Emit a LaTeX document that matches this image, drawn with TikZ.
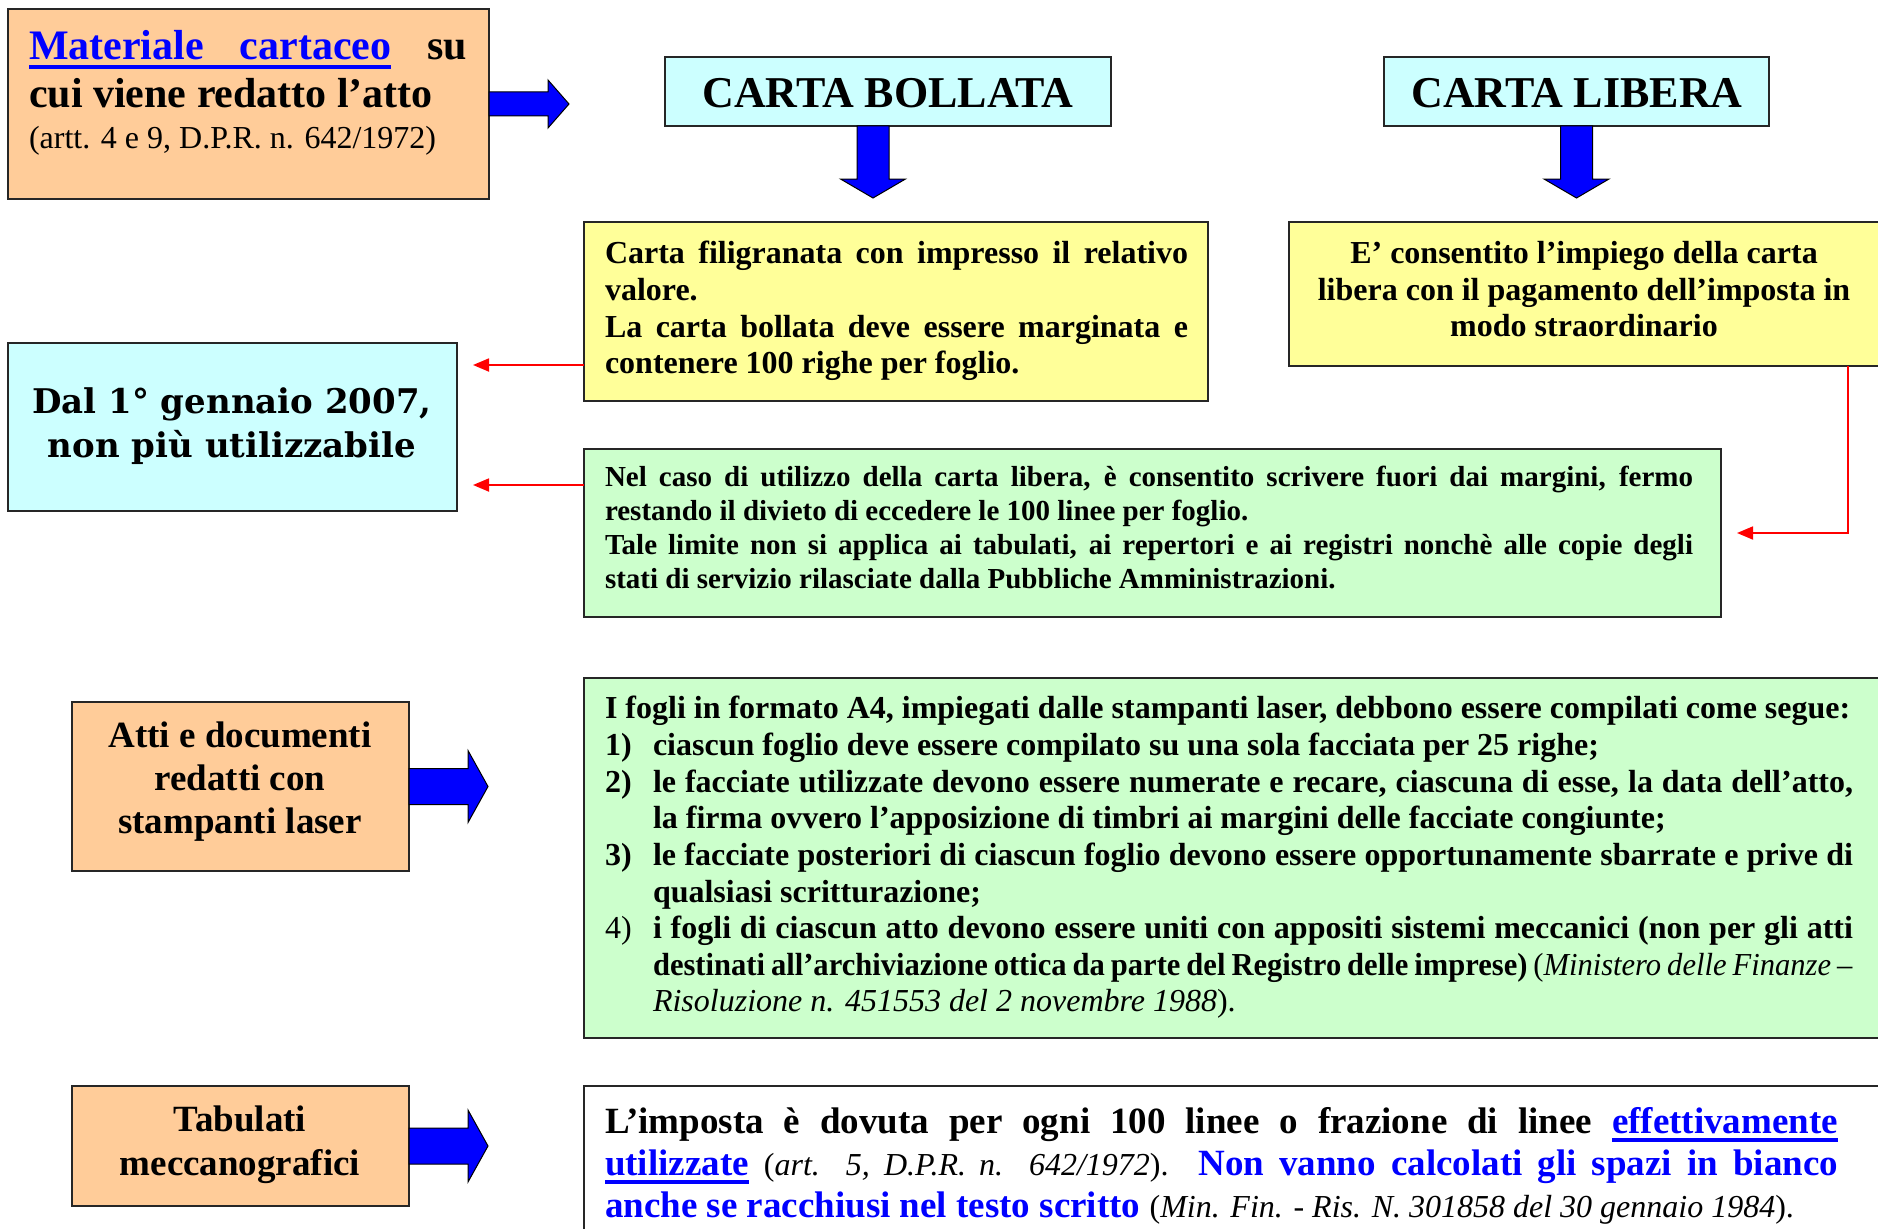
\documentclass[tikz,border=0pt]{standalone}
\usepackage{fontspec}
\setmainfont{Liberation Serif}
\newfontfamily\bookf{DejaVu Serif}
\usetikzlibrary{arrows.meta}
\definecolor{peach}{HTML}{FFCC99}
\definecolor{cyanb}{HTML}{CCFFFF}
\definecolor{yell}{HTML}{FFFF99}
\definecolor{greenb}{HTML}{CCFFCC}
\definecolor{blu}{HTML}{0000FF}
\definecolor{rd}{HTML}{FF0000}
\newcommand\fHuge{\fontsize{42}{48}\selectfont\bfseries}
\newcommand\fTitle{\fontsize{44}{50}\selectfont\bfseries}
\newcommand\fBig{\fontsize{37}{42}\selectfont\bfseries}
\newcommand\fMed{\fontsize{32}{37}\selectfont\bfseries}
\newcommand\fSm{\fontsize{29}{34}\selectfont\bfseries}
\newcommand\fReg{\fontsize{32}{37}\selectfont\mdseries}
\newcommand\fDal{\bookf\fontsize{34}{44}\selectfont\bfseries}
\newcommand\jus[2]{\makebox[#1pt][s]{#2}}
\newcommand\ulw[1]{\setbox0=\hbox{#1}\rlap{\vrule height -5pt depth 9pt width \wd0}\box0}
\newcommand\ulsp{\leaders\vrule height -5pt depth 9pt\hskip\fontdimen2\font plus\fontdimen3\font minus\fontdimen4\font}
\newcommand\bx[6]{\node[boxst, fill=#2, minimum width=#5pt, minimum height=#6pt] (#1) at (#3,#4) {};}
\newcommand\rarrow[5]{\draw[barrow] (#1) ++(0,-#2) -- ++(#3,0) -- ++(0,-#4) -- ++(#5,#2+#4) -- ++(-#5,#2+#4) -- ++(0,-#4) -- ++(-#3,0) -- cycle;}
\newcommand\darrow[5]{\draw[barrow] (#1) ++(-#2,0) -- ++(0,#3) -- ++(-#4,0) -- ++(#2+#4,#5) -- ++(#2+#4,-#5) -- ++(-#4,0) -- ++(0,-#3) -- cycle;}
\begin{document}
\begin{tikzpicture}[x=1pt,y=-1pt,
  boxst/.style={draw=black!85, line width=2pt, inner sep=0pt, outer sep=0pt, anchor=north west},
  barrow/.style={fill=blu, draw=black, line width=1pt, line join=miter},
  redarr/.style={draw=rd, line width=1.8pt, -{Triangle[length=16pt,width=13pt]}},
  tl/.style={inner sep=0pt, outer sep=0pt, anchor=base west},
  tc/.style={inner sep=0pt, outer sep=0pt, anchor=base}]
\useasboundingbox[fill=white] (0,0) rectangle (1878,1228);
% boxes
\bx{mat}{peach}{8}{9}{481}{190}
\bx{bol}{cyanb}{665}{57}{446}{69}
\bx{lib}{cyanb}{1384}{57}{385}{69}
\bx{yb1}{yell}{584}{222}{624}{179}
\bx{yb2}{yell}{1289}{222}{592}{144}
\bx{dal}{cyanb}{8}{343}{449}{168}
\bx{gb1}{greenb}{584}{449}{1137}{168}
\bx{gb2}{greenb}{584}{678}{1300}{360}
\bx{atti}{peach}{72}{702}{337}{169}
\bx{tab}{peach}{72}{1086}{337}{120}
\bx{bot}{white}{584}{1086}{1300}{200}
% blue block arrows
\rarrow{mat.east}{12}{59}{12}{21}
\rarrow{atti.east}{18}{59}{18}{20}
\rarrow{tab.east}{18}{59}{18}{20}
\darrow{[xshift=-15pt]bol.south}{16}{53}{16.5}{19}
\darrow{lib.south}{16}{53}{16.5}{19}
% red connectors
\coordinate (r1) at (473,365);
\coordinate (r2) at (473,485);
\coordinate (r3) at ([xshift=16pt]gb1.east);
\draw[redarr] (yb1.west |- r1) -- (r1);
\draw[redarr] (gb1.west |- r2) -- (r2);
\draw[redarr] ([xshift=-33pt]yb2.south east) |- (r3);
% texts: Materiale
\node[tl,font=\fHuge] (m1) at (29,60) {\jus{438}{\textcolor{blu}{\ulw{Materiale}\ulsp\ulw{cartaceo}} su}};
\node[tl,font=\fHuge] (m2) at (29,108) {cui viene redatto l’atto};
\node[tl,font=\fReg] (m3) at (29,148) {(artt. 4 e 9, D.P.R. n. 642/1972)};
% titles
\node[tc,font=\fTitle] (bt) at (888,108) {CARTA BOLLATA};
\node[tc,font=\fTitle] (lt) at (1577,108) {CARTA LIBERA};
% yellow 1
\node[tl,font=\fMed] (y1a) at (605,263) {\jus{583}{Carta filigranata con impresso il relativo}};
\node[tl,font=\fMed] (y1b) at (605,300) {valore.};
\node[tl,font=\fMed] (y1c) at (605,337) {\jus{583}{La carta bollata deve essere marginata e}};
\node[tl,font=\fMed] (y1d) at (605,373) {contenere 100 righe per foglio.};
% yellow 2
\node[tc,font=\fMed] (y2a) at (1584,263) {E’ consentito l’impiego della carta};
\node[tc,font=\fMed] (y2b) at (1584,300) {libera con il pagamento dell’imposta in};
\node[tc,font=\fMed] (y2c) at (1584,336) {modo straordinario};
% dal
\node[tc,font=\fDal] (d1) at (232,413) {Dal 1° gennaio 2007,};
\node[tc,font=\fDal] (d2) at (232,457) {non più utilizzabile};
% green 1
\node[tl,font=\fSm] (g1a) at (605,486) {\jus{1088}{Nel caso di utilizzo della carta libera, è consentito scrivere fuori dai margini, fermo}};
\node[tl,font=\fSm] (g1b) at (605,520) {restando il divieto di eccedere le 100 linee per foglio.};
\node[tl,font=\fSm] (g1c) at (605,554) {\jus{1088}{Tale limite non si applica ai tabulati, ai repertori e ai registri nonchè alle copie degli}};
\node[tl,font=\fSm] (g1d) at (605,588) {stati di servizio rilasciate dalla Pubbliche Amministrazioni.};
% green 2
\node[tl,font=\fMed] (g2a) at (605,718) {I fogli in formato A4, impiegati dalle stampanti laser, debbono essere compilati come segue:};
\node[tl,font=\fMed] (n1) at (605,755) {1)};
\node[tl,font=\fMed] (g2b) at (653,755) {ciascun foglio deve essere compilato su una sola facciata per 25 righe;};
\node[tl,font=\fMed] (n2) at (605,792) {2)};
\node[tl,font=\fMed] (g2c) at (653,792) {\jus{1200}{le facciate utilizzate devono essere numerate e recare, ciascuna di esse, la data dell’atto,}};
\node[tl,font=\fMed] (g2d) at (653,828) {la firma ovvero l’apposizione di timbri ai margini delle facciate congiunte;};
\node[tl,font=\fMed] (n3) at (605,865) {3)};
\node[tl,font=\fMed] (g2e) at (653,865) {\jus{1200}{le facciate posteriori di ciascun foglio devono essere opportunamente sbarrate e prive di}};
\node[tl,font=\fMed] (g2f) at (653,902) {qualsiasi scritturazione;};
\node[tl,font=\fReg] (n4) at (605,938) {4)};
\node[tl,font=\fMed] (g2g) at (653,938) {\jus{1200}{i fogli di ciascun atto devono essere uniti con appositi sistemi meccanici (non per gli atti}};
\node[tl,font=\fMed] (g2h) at (653,975) {\scalebox{0.955}[1]{\jus{1256}{destinati all’archiviazione ottica da parte del Registro delle imprese) {\mdseries(\textit{Ministero delle Finanze –}}}}};
\node[tl,font=\fReg] (g2i) at (653,1011) {\textit{Risoluzione n. 451553 del 2 novembre 1988}).};
% left orange
\node[tc,font=\fBig] (a1) at (240,747) {Atti e documenti};
\node[tc,font=\fBig] (a2) at (240,790) {redatti con};
\node[tc,font=\fBig] (a3) at (240,833) {stampanti laser};
\node[tc,font=\fBig] (t1) at (240,1131) {Tabulati};
\node[tc,font=\fBig] (t2) at (240,1175) {meccanografici};
% bottom box
\node[tl,font=\fBig] (b1) at (605,1133) {\jus{1233}{L’imposta è dovuta per ogni 100 linee o frazione di linee \textcolor{blu}{\ulw{effettivamente}}}};
\node[tl,font=\fBig] (b2) at (605,1175) {\jus{1233}{\textcolor{blu}{\ulw{utilizzate}} {\fontsize{32}{37}\selectfont\mdseries(\textit{art. 5, D.P.R. n. 642/1972}).} \textcolor{blu}{Non vanno calcolati gli spazi in bianco}}};
\node[tl,font=\fBig] (b3) at (605,1217) {\textcolor{blu}{anche se racchiusi nel testo scritto} {\fontsize{32}{37}\selectfont\mdseries(\textit{Min. Fin. - Ris. N. 301858 del 30 gennaio 1984}).}};
\end{tikzpicture}
\end{document}
